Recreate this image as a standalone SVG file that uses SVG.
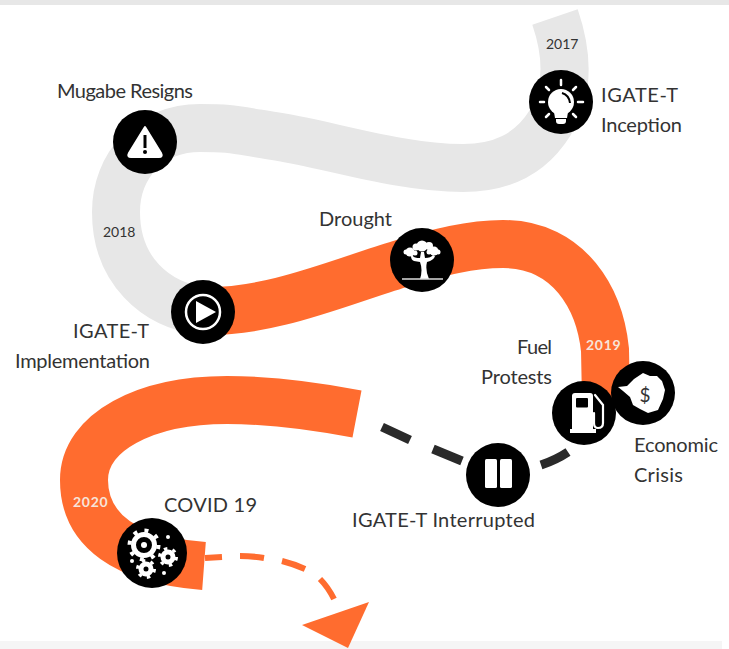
<svg xmlns="http://www.w3.org/2000/svg" width="729" height="649" viewBox="0 0 729 649">
<style>
.road{fill:none;stroke-width:48}
.grey{stroke:#e7e7e7}
.orange{stroke:#ff6c2f}
.lbl{font-family:"Lato","Noto Sans",sans-serif;font-size:20px;fill:#333}
.yr{font-family:"Lato","Noto Sans",sans-serif;font-size:14px;fill:#333}
.yw{font-family:"Lato","Noto Sans",sans-serif;font-size:14px;font-weight:700;fill:#f7e4da;letter-spacing:.7px}
.disc{fill:#000}
.w{fill:#fff}
.ws{fill:none;stroke:#fff;stroke-linecap:round}
</style>
<rect width="729" height="5" fill="#e7e7e7"/>
<rect y="641" width="722" height="8" fill="#f5f5f5"/>
<g id="connectors">
<path class="road grey" d="M555,17C567,52 570,90 550,123C530,155 500,168 463,168C400,168 330,145 280,137S230,128 200,128C150,128 116,165 116,212C116,270 155,305 203,311"/>
<path class="road orange" d="M203,311C270,313 340,282 400,264C440,252 470,244 503,244C570,244 600,300 605,350L606,400"/>
<path class="road orange" d="M357,414C310,405 265,400 227,400C145,400 84,432 84,480C84,530 125,560 204,566"/>
<path d="M382,427L410,440M433,449L462,461M541,465Q556,460 568,452" fill="none" stroke="#2a2a2a" stroke-width="9"/>
<path d="M205,558L222,557M240,556Q252,556 264,558M282,561Q294,564 305,569M320,579Q328,587 334,599" fill="none" stroke="#ff6c2f" stroke-width="6"/>
<path d="M369,602L302,625L348,648Z" fill="#ff6c2f"/>
</g>
<g id="node-inception">
<circle class="disc" cx="561" cy="102" r="32"/>
<circle class="w" cx="561" cy="102" r="13"/>
<path class="w" d="M554,112H568L567,118H555Z"/>
<path class="w" d="M556,119H566V121Q566,124 563,124H559Q556,124 556,121Z"/>
<path d="M562,93Q569,95 570,103" fill="none" stroke="#000" stroke-width="2"/>
<path class="ws" stroke-width="2.5" d="M561,80V85M546,87L549,90M576,87L573,90M540,102H544M578,102H583M546,117L549,114M576,117L573,114"/>
<text class="lbl" x="601" y="102" textLength="77">IGATE-T</text>
<text class="lbl" x="601" y="132" textLength="81">Inception</text>
<text class="yr" x="546" y="49">2017</text>
</g>
<g id="node-mugabe">
<circle class="disc" cx="145" cy="142" r="32"/>
<path class="w" d="M145,127L161,153Q163,157 159,157H131Q127,157 129,153Z" stroke="#fff" stroke-width="2" stroke-linejoin="round"/>
<path d="M145,135V148" stroke="#000" stroke-width="3"/>
<circle class="disc" cx="145" cy="152" r="2"/>
<text class="lbl" x="57" y="98" textLength="136">Mugabe Resigns</text>
<text class="yr" x="103" y="237">2018</text>
</g>
<g id="node-implementation">
<circle class="disc" cx="203" cy="312" r="32"/>
<circle cx="203" cy="312" r="17" fill="none" stroke="#fff" stroke-width="2.5"/>
<path class="w" d="M196,301L216,312L196,323Z"/>
<text class="lbl" x="73" y="338" textLength="76">IGATE-T</text>
<text class="lbl" x="15" y="368" textLength="135">Implementation</text>
</g>
<g id="node-drought">
<circle class="disc" cx="422" cy="260" r="32"/>
<path class="w" d="M420,279Q423,270 420,262L414,261Q411,260 411,256H413Q414,258 420,258L421,252H424L425,258Q431,258 433,255L435,256Q434,260 427,262Q425,270 429,279Z"/>
<circle class="w" cx="410" cy="252" r="4.5"/>
<circle class="w" cx="406" cy="252" r="2.5"/>
<circle class="w" cx="415" cy="253" r="2.5"/>
<circle class="w" cx="422" cy="246" r="5.5"/>
<circle class="w" cx="416" cy="247" r="3.5"/>
<circle class="w" cx="429" cy="246" r="4"/>
<circle class="w" cx="434" cy="251" r="4.5"/>
<circle class="w" cx="438" cy="252" r="2.5"/>
<circle class="w" cx="429" cy="252" r="2.5"/>
<path d="M402,279H443" stroke="#ddd" stroke-width="1.5"/>
<text class="lbl" x="319" y="226" textLength="73">Drought</text>
</g>
<g id="node-fuel">
<circle class="disc" cx="584" cy="413" r="32"/>
<path class="w" d="M572,396Q572,393 575,393H590Q593,393 593,396V429H596V433H570V429H572Z"/>
<rect x="576" y="398" width="12" height="9.500" rx="1" fill="#000"/>
<path class="ws" stroke-width="2.200" d="M595,395L603,405V423Q603,428 598,428Q594,428 594,423V413"/>
<text class="lbl" x="517" y="354" textLength="35">Fuel</text>
<text class="lbl" x="481" y="384" textLength="71">Protests</text>
</g>
<g id="node-economic">
<circle class="disc" cx="643" cy="393" r="32"/>
<path class="w" d="M618,387L627,386L634,379L643,373L650,376L657,376L662,381L665,390L663,399L658,410L648,413L640,409L633,405L630,397L623,391Z"/>
<text x="645" y="402" font-family="Lato,sans-serif" font-size="19" fill="#333" text-anchor="middle">$</text>
<text class="lbl" x="634" y="452" textLength="84">Economic</text>
<text class="lbl" x="634" y="482" textLength="49">Crisis</text>
<text class="yw" x="586" y="350">2019</text>
</g>
<g id="node-interrupted">
<circle class="disc" cx="498" cy="475" r="32"/>
<rect class="w" x="485" y="459" width="12" height="29" rx="1.500"/>
<rect class="w" x="500" y="459" width="12" height="29" rx="1.500"/>
<text class="lbl" x="352" y="527" textLength="183">IGATE-T Interrupted</text>
</g>
<g id="node-covid">
<circle class="disc" cx="152" cy="553" r="35"/>
<circle cx="144" cy="545" r="10.500" fill="none" stroke="#fff" stroke-width="5"/>
<circle cx="144" cy="545" r="14.500" fill="none" stroke="#fff" stroke-width="4" stroke-dasharray="4 7.390"/>
<circle class="w" cx="144" cy="545" r="3"/>
<circle cx="168" cy="557" r="5" fill="none" stroke="#fff" stroke-width="5"/>
<circle cx="168" cy="557" r="8.500" fill="none" stroke="#fff" stroke-width="3" stroke-dasharray="3.500 5.400"/>
<circle cx="146" cy="569" r="5" fill="none" stroke="#fff" stroke-width="5"/>
<circle cx="146" cy="569" r="8.500" fill="none" stroke="#fff" stroke-width="3" stroke-dasharray="3.500 5.400"/>
<circle class="w" cx="168" cy="537" r="2"/>
<circle class="w" cx="132" cy="561" r="2"/>
<circle class="w" cx="164" cy="573" r="2"/>
<text class="lbl" x="164" y="512" textLength="93">COVID 19</text>
<text class="yw" x="73" y="507">2020</text>
</g>
</svg>
